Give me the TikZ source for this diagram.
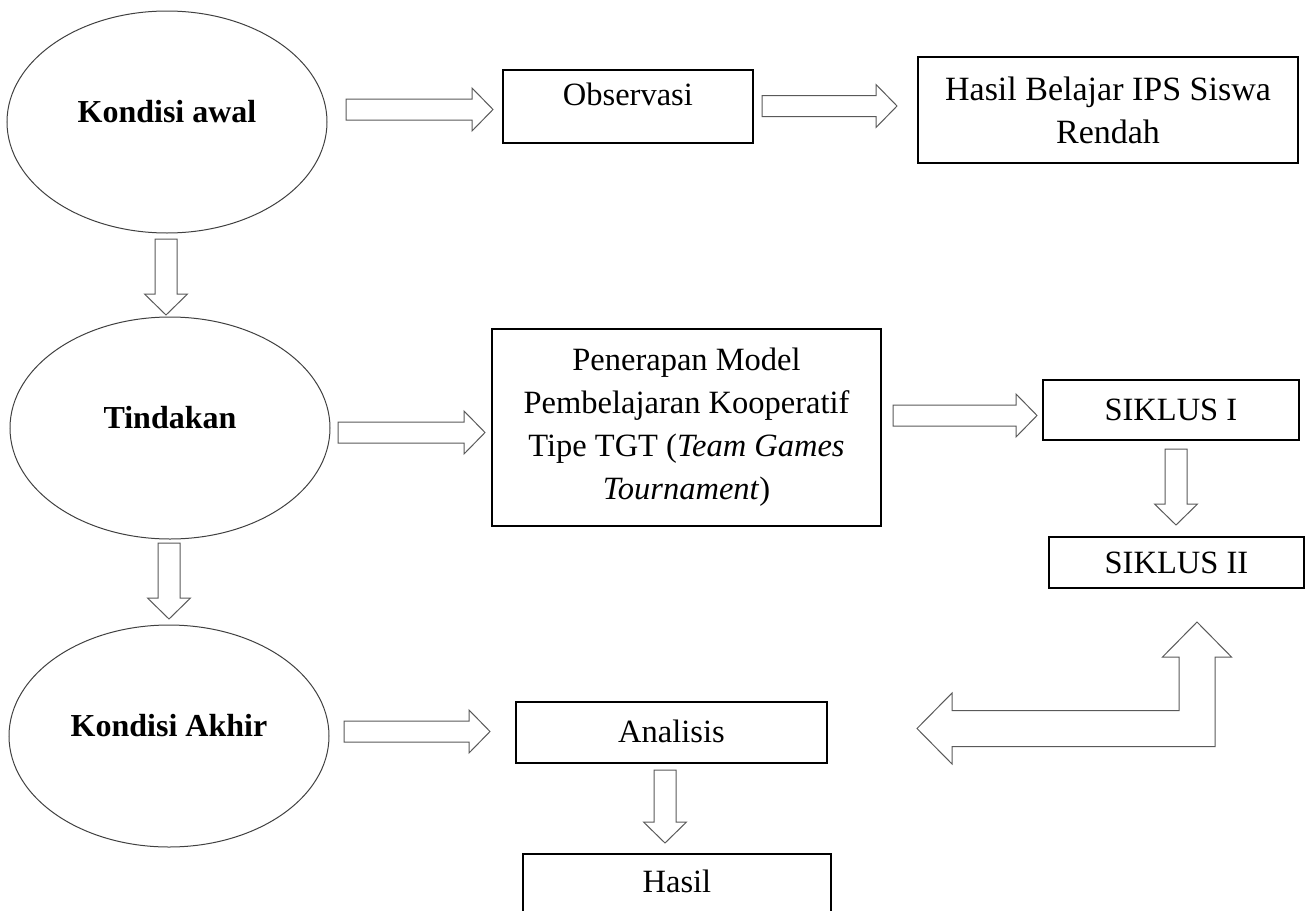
\documentclass[tikz,border=0pt]{standalone}
\usepackage{fontspec}
\setmainfont{Liberation Serif}
\usetikzlibrary{shapes.geometric,calc}

\tikzset{
    ell/.style={ellipse, draw=black!75, line width=0.5pt, minimum width=160pt,
        minimum height=111pt, inner sep=0pt, font=\fontsize{16}{21.5}\selectfont\bfseries,
        text height=8pt, text depth=8pt},
    box/.style={draw, line width=0.9pt, inner xsep=0pt, inner ysep=0pt,
        anchor=north west, align=center},
    mbox/.style={draw, line width=0.9pt, inner sep=0pt, align=center},
    hfat/.style={draw=black!65, line width=0.5pt, to path={
        let \p1=(\tikztostart), \p2=(\tikztotarget) in
        (\x1,\y1+5.25pt) -- (\x2-10.5pt,\y1+5.25pt) -- (\x2-10.5pt,\y1+10.75pt)
        -- (\x2,\y1) -- (\x2-10.5pt,\y1-10.75pt) -- (\x2-10.5pt,\y1-5.25pt)
        -- (\x1,\y1-5.25pt) -- cycle}},
    vfat/.style={draw=black!65, line width=0.5pt, to path={
        let \p1=(\tikztostart), \p2=(\tikztotarget) in
        (\x1-5.5pt,\y1) -- (\x1+5.5pt,\y1) -- (\x1+5.5pt,\y2+10.5pt)
        -- (\x1+10.75pt,\y2+10.5pt) -- (\x1,\y2) -- (\x1-10.75pt,\y2+10.5pt)
        -- (\x1-5.5pt,\y2+10.5pt) -- cycle}}
}

\begin{document}
\begin{tikzpicture}[x=0.5pt, y=-0.5pt, font=\fontsize{16.25}{21.5}\selectfont]
    \useasboundingbox (0,0) rectangle (1311,910);

    \node[ell] (awal) at (167,122) {Kondisi awal};
    \node[ell] (tindakan) at (170,428) {Tindakan};
    \node[ell] (akhir) at (169,736) {Kondisi Akhir};

    \node[box, minimum width=125pt, text height=18pt, text depth=18.5pt] (obs) at (502,69) {Observasi};
    \node[mbox, minimum width=190pt, minimum height=53pt, font=\fontsize{17}{21.5}\selectfont]
        (rendah) at (1108,110) {Hasil Belajar IPS Siswa\\Rendah};
    \node[mbox, minimum width=194.5pt, minimum height=98.5pt] (tgt) at (686.5,427.5)
        {Penerapan Model\\Pembelajaran Kooperatif\\Tipe TGT (\textit{Team Games}\\\textit{Tournament})};
    \node[box, minimum width=128pt, text height=20.5pt, text depth=9.5pt] (s1) at (1042,379) {SIKLUS I};
    \node[box, minimum width=127.5pt, text height=18.5pt, text depth=7pt] (s2) at (1048,536) {SIKLUS II};
    \node[box, minimum width=155.5pt, text height=20.5pt, text depth=10pt] (analisis) at (515,701) {Analisis};
    \node[box, minimum width=154pt, text height=19.5pt, text depth=30pt] (hasil) at (522,853) {Hasil};

    \coordinate (a1) at (346,109.5);  \coordinate (b1) at (493,109.5);
    \coordinate (a2) at (762,106);    \coordinate (b2) at (897,106);
    \coordinate (a3) at (338,432.5);  \coordinate (b3) at (485,432.5);
    \coordinate (a4) at (893,415.5);  \coordinate (b4) at (1037,415.5);
    \coordinate (a5) at (344,731.5);  \coordinate (b5) at (490,731.5);
    \coordinate (d1) at (166,239);    \coordinate (e1) at (166,315);
    \coordinate (d2) at (169,543);    \coordinate (e2) at (169,619);
    \coordinate (d3) at (1176,449);   \coordinate (e3) at (1176,525);
    \coordinate (d4) at (665,770);    \coordinate (e4) at (665,843);

    \draw[hfat] (a1) to (b1);
    \draw[hfat] (a2) to (b2);
    \draw[hfat] (a3) to (b3);
    \draw[hfat] (a4) to (b4);
    \draw[hfat] (a5) to (b5);
    \draw[vfat] (d1) to (e1);
    \draw[vfat] (d2) to (e2);
    \draw[vfat] (d3) to (e3);
    \draw[vfat] (d4) to (e4);

    \coordinate (up) at (1197,622);
    \coordinate (left) at (917,728.5);
    \draw[draw=black!65, line width=0.5pt] let \p1=(up), \p2=(left) in
        (\x1,\y1) -- (\x1+17.25pt,\y1-17.5pt) -- (\x1+9pt,\y1-17.5pt) -- (\x1+9pt,\y2-9pt)
        -- (\x2+17.5pt,\y2-9pt) -- (\x2+17.5pt,\y2-17.75pt) -- (\x2,\y2)
        -- (\x2+17.5pt,\y2+17.75pt) -- (\x2+17.5pt,\y2+9pt) -- (\x1-9pt,\y2+9pt)
        -- (\x1-9pt,\y1-17.5pt) -- (\x1-17.25pt,\y1-17.5pt) -- cycle;
\end{tikzpicture}
\end{document}
